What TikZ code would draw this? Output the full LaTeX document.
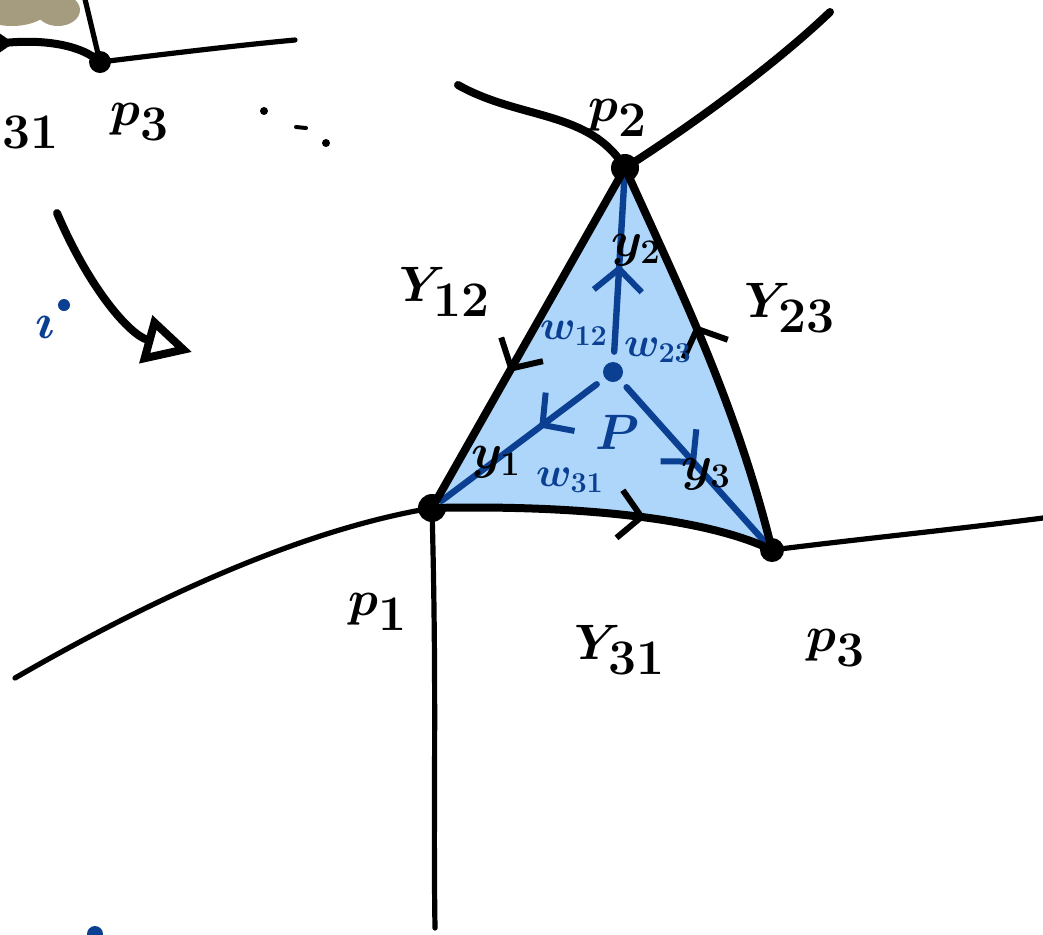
\documentclass[tikz,border=0pt]{standalone}
\usetikzlibrary{arrows.meta,decorations.markings}
\definecolor{fillBlue}{HTML}{ADD6FA}
\definecolor{inkBlue}{HTML}{0A3F92}
\definecolor{blobGray}{HTML}{A59C80}
\tikzset{
  ink/.style     ={line width=4pt,line cap=round,line join=round},
  thin ink/.style={line width=2.6pt,line cap=round,line join=round},
  blue ink/.style={draw=inkBlue,line width=3.2pt,line cap=round},
  vertex/.style  ={circle,fill=black,minimum size=14pt,inner sep=0pt},
  mid tip/.style ={postaction={decorate},
                   decoration={markings,mark=at position #1 with
                     {\arrow{Straight Barb[length=11pt,width=24pt,line width=3pt]}}}},
  big label/.style  ={font=\fontsize{46}{50}\selectfont\boldmath},
  small label/.style={font=\fontsize{20}{22}\selectfont\boldmath,text=inkBlue},
  tiny label/.style ={font=\fontsize{24}{26}\selectfont\boldmath},
}

\begin{document}
\begin{tikzpicture}[x=0.5pt,y=-0.5pt,every node/.style={inner sep=0pt}]
  \useasboundingbox (0,0) rectangle (1043,934);
  \clip (0,0) rectangle (1043,934);
  % --- corner of the neighbouring piece
  \fill[blobGray] (12,4) ellipse (40 and 22);
  \fill[blobGray] (58,10) ellipse (22 and 16);
  \node[vertex,minimum size=11pt] (q3) at (100,62) {};
  \coordinate (qa) at (-5,44);
  \coordinate (qb) at (84,-5);
  \coordinate (qc) at (295,40);
  \draw[ink] (qa) .. controls (40,38) and (80,44) .. (q3.center);
  \draw[thin ink] (qb) -- (q3.center);
  \draw[thin ink] (q3.center) .. controls (150,56) and (230,46) .. (qc);
  \draw[thin ink] (-4,34) -- (9,43) -- (-4,52);
  \node[big label,anchor=west] (lq31) at (2,132) {$31$};
  \node[big label] (lq3)  at (140,122) {$p_3$};
  \fill (264,111) circle (2pt);
  \draw[line width=2pt,line cap=round] (296,127) -- (306,128);
  \fill (326,143) circle (2pt);
  % --- curved arrow and i
  \coordinate (ca) at (57,213);
  \coordinate (cb) at (192,352);
  \draw[ink,-{Triangle[open,length=24pt,width=24pt,line width=4pt]}]
    (ca) .. controls (90,290) and (130,335) .. (cb);
  \node[font=\fontsize{48}{52}\selectfont\boldmath,text=inkBlue] (li) at (45,327) {$\imath$};
  \fill[inkBlue] (64,305) circle (3pt);
  % --- triangle
  \node[vertex]                        (p1) at (432,508) {};
  \node[vertex]                        (p2) at (625,168) {};
  \node[vertex,minimum size=12pt]      (p3) at (772,550) {};
  \coordinate (p) at (613,372);
  \fill[fillBlue] (p1.center) -- (p2.center)
     .. controls (680,290) and (735,400) .. (p3.center)
     .. controls (700,515) and (560,505) .. (p1.center) -- cycle;
  \node[circle,fill=inkBlue,minimum size=10pt] (pc) at (p) {};
  \draw[blue ink,shorten <=5pt,shorten >=4pt,mid tip=0.5] (pc) -- (p2.center);
  \draw[blue ink,shorten <=5pt,shorten >=6pt,mid tip=0.38] (pc) -- (p1.center);
  \draw[blue ink,shorten <=5pt,shorten >=4pt,mid tip=0.5]  (pc) -- (p3.center);
  \draw[ink,mid tip=0.6] (p2.center) -- (p1.center);
  \draw[ink,mid tip=0.58] (p3.center)
     .. controls (735,400) and (680,290) .. (p2.center);
  \draw[ink,mid tip=0.62] (p1.center)
     .. controls (560,505) and (700,515) .. (p3.center);
  % --- outer edges
  \coordinate (e2a) at (458,85);
  \coordinate (e2b) at (830,12);
  \coordinate (e1a) at (15,678);
  \coordinate (e1b) at (435,928);
  \coordinate (e3a) at (1043,518);
  \draw[ink] (e2a) .. controls (520,120) and (590,110) .. (p2.center);
  \draw[ink] (p2.center) .. controls (700,120) and (780,60) .. (e2b);
  \draw[thin ink] (p1.center) .. controls (300,530) and (150,600) .. (e1a);
  \draw[thin ink] (p1.center) .. controls (437,700) and (433,800) .. (e1b);
  \draw[thin ink] (p3.center) .. controls (850,540) and (950,530) .. (e3a);
  % --- labels
  \node[big label] (l2)   at (618,118) {$p_2$};
  \node[big label] (l1)   at (378,612) {$p_1$};
  \node[big label] (l3)   at (836,648) {$p_3$};
  \node[big label] (l12)  at (445,292) {$Y_{12}$};
  \node[big label] (l23)  at (790,308) {$Y_{23}$};
  \node[big label] (l31)  at (620,650) {$Y_{31}$};
  \node[tiny label] (ly2) at (636,250) {$y_2$};
  \node[tiny label] (ly1) at (496,462) {$y_1$};
  \node[tiny label] (ly3) at (706,474) {$y_3$};
  \node[small label] (lw12) at (574,333) {$w_{12}$};
  \node[small label] (lw23) at (658,350) {$w_{23}$};
  \node[small label] (lw31) at (570,480) {$w_{31}$};
  \node[small label,font=\fontsize{32}{34}\selectfont\boldmath] (lp) at (617,432) {$P$};
  \fill[inkBlue] (95,934) circle (4pt);
\end{tikzpicture}
\end{document}
